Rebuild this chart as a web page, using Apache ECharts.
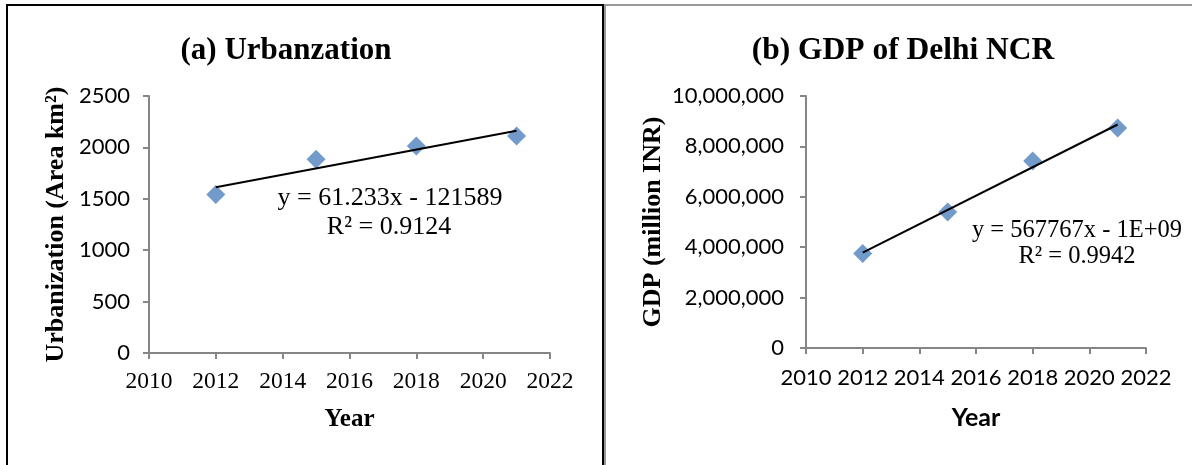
<!DOCTYPE html>
<html>
<head>
<meta charset="utf-8">
<script src="https://cdn.jsdelivr.net/npm/echarts@6/dist/echarts.min.js"></script>
<style>
  html, body { margin: 0; padding: 0; background: #fff; }
  #main { width: 1192px; height: 465px; }
</style>
</head>
<body>
<div id="main"></div>
<script>
// data
var years = [2012, 2015, 2018, 2021];
var urbanArea = [1542, 1885, 2014, 2110];          // km²
var gdpDelhi = [3750000, 5400000, 7420000, 8730000]; // million INR

var urbanEq = ['y = 61.233x - 121589', 'R² = 0.9124'];
var gdpEq = ['y = 567767x - 1E+09', 'R² = 0.9942'];

var serif = 'Liberation Serif';
var sans = 'Lato';
var axisGray = '#868686';

// least squares trendline, like the spreadsheet one
function trend(xs, ys) {
  var n = xs.length, mx = 0, my = 0, sxy = 0, sxx = 0;
  xs.forEach(function (x, i) { mx += x / n; my += ys[i] / n; });
  xs.forEach(function (x, i) {
    sxy += (x - mx) * (ys[i] - my);
    sxx += (x - mx) * (x - mx);
  });
  var b = sxy / sxx, a = my - b * mx;
  var x0 = xs[0], x1 = xs[n - 1];
  return [[x0, a + b * x0], [x1, a + b * x1]];
}

function pairs(xs, ys) {
  return xs.map(function (x, i) { return [x, ys[i]]; });
}

function plain(v) { return String(v); }
function withCommas(v) { return String(v).replace(/\B(?=(\d{3})+(?!\d))/g, ','); }

function xAxisOf(grid, labelFont, labelSize, nameFont, margin, gap) {
  return {
    type: 'value', gridIndex: grid, min: 2010, max: 2022, interval: 2,
    name: 'Year', nameLocation: 'middle', nameGap: gap,
    nameTextStyle: { fontFamily: nameFont, fontWeight: 'bold', fontSize: 25, color: '#000' },
    axisLine: { show: true, lineStyle: { color: axisGray, width: 2 } },
    axisTick: { show: true, length: 6, lineStyle: { color: axisGray, width: 2 } },
    axisLabel: { fontFamily: labelFont, fontSize: labelSize, color: '#000', margin: margin, formatter: plain },
    splitLine: { show: false }
  };
}

function yAxisOf(grid, max, interval, name, margin, gap, fmt) {
  return {
    type: 'value', gridIndex: grid, min: 0, max: max, interval: interval,
    name: name, nameLocation: 'middle', nameGap: gap,
    nameTextStyle: { fontFamily: serif, fontWeight: 'bold', fontSize: 26, color: '#000' },
    axisLine: { show: true, lineStyle: { color: axisGray, width: 2 } },
    axisTick: { show: true, length: 6, lineStyle: { color: axisGray, width: 2 } },
    axisLabel: { fontFamily: sans, fontSize: 22, color: '#000', margin: margin, formatter: fmt },
    splitLine: { show: false }
  };
}

function eqText(x, y, s, size) {
  return {
    type: 'text', x: x, y: y,
    style: { text: s, fontFamily: serif, fontSize: size, fill: '#000', align: 'center', verticalAlign: 'middle' }
  };
}

var chart = echarts.init(document.getElementById('main'));

chart.setOption({
  animation: false,
  backgroundColor: '#fff',
  title: [
    { text: '(a) Urbanzation', left: 281, top: 46, textAlign: 'center', textVerticalAlign: 'middle',
      textStyle: { fontFamily: serif, fontWeight: 'bold', fontSize: 31, color: '#000' } },
    { text: '(b) GDP of Delhi NCR', left: 898, top: 46, textAlign: 'center', textVerticalAlign: 'middle',
      textStyle: { fontFamily: serif, fontWeight: 'bold', fontSize: 31.5, color: '#000' } }
  ],
  grid: [
    { left: 149, top: 96, width: 401, height: 257 },
    { left: 806, top: 96, width: 340, height: 252 }
  ],
  xAxis: [
    xAxisOf(0, serif, 23.5, serif, 17, 54),
    xAxisOf(1, sans, 22, sans, 19, 57)
  ],
  yAxis: [
    yAxisOf(0, 2500, 500, 'Urbanization (Area km²)', 19, 80, plain),
    yAxisOf(1, 10000000, 2000000, 'GDP (million INR)', 22, 140, withCommas)
  ],
  series: [
    { type: 'line', xAxisIndex: 0, yAxisIndex: 0, data: trend(years, urbanArea),
      showSymbol: false, lineStyle: { color: '#000', width: 2 }, z: 3 },
    { type: 'scatter', xAxisIndex: 0, yAxisIndex: 0, data: pairs(years, urbanArea),
      symbol: 'diamond', symbolSize: 19, itemStyle: { color: '#4F81BD' }, z: 2 },
    { type: 'line', xAxisIndex: 1, yAxisIndex: 1, data: trend(years, gdpDelhi),
      showSymbol: false, lineStyle: { color: '#000', width: 2 }, z: 3 },
    { type: 'scatter', xAxisIndex: 1, yAxisIndex: 1, data: pairs(years, gdpDelhi),
      symbol: 'diamond', symbolSize: 19, itemStyle: { color: '#4F81BD' }, z: 2 }
  ],
  graphic: [
    // panel borders
    { type: 'rect', shape: { x: 6, y: 4, width: 2, height: 461 }, style: { fill: '#000' } },
    { type: 'rect', shape: { x: 6, y: 4, width: 598, height: 2 }, style: { fill: '#000' } },
    { type: 'rect', shape: { x: 602, y: 4, width: 2, height: 461 }, style: { fill: '#000' } },
    { type: 'rect', shape: { x: 604, y: 4, width: 2, height: 461 }, style: { fill: '#9a9a9a' } },
    { type: 'rect', shape: { x: 604, y: 4, width: 588, height: 2 }, style: { fill: '#9a9a9a' } },
    eqText(390, 198, urbanEq[0], 26),
    eqText(389, 227, urbanEq[1], 26),
    eqText(1077, 231, gdpEq[0], 24.5),
    eqText(1077, 257, gdpEq[1], 24.5)
  ]
});
</script>
</body>
</html>
